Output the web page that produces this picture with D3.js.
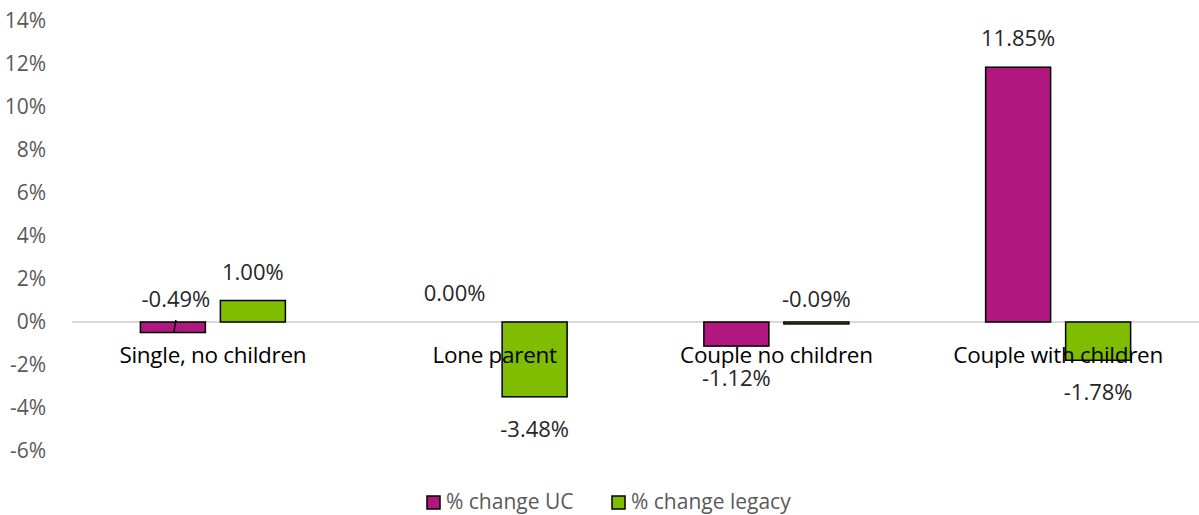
<!DOCTYPE html>
<html><head><meta charset="utf-8">
<script src="https://cdn.jsdelivr.net/npm/d3@7"></script>
<style>body{margin:0;background:#fff;}svg{display:block;font-family:"Open Sans",sans-serif;}</style>
</head><body><svg id="c" width="1199" height="515"></svg>
<script>
const categories = ["Single, no children","Lone parent","Couple no children","Couple with children"];
const seriesNames = ["% change UC","% change legacy"];
const ucValues = [-0.49, 0.00, -1.12, 11.85];
const legacyValues = [1.00, -3.48, -0.09, -1.78];
const yTicks = [-6,-4,-2,0,2,4,6,8,10,12,14];
const colors = ["#B0177F","#80BC00"];

(function(){
const svg = d3.select("#c");
const pl = 72, pr = 1199, pt = 21, pb = 451;
const x = d3.scaleBand().domain(categories).range([pl,pr]);
const xs = d3.scaleBand().domain([0,1]).range([-72.5,72.5]).paddingInner(15/80);
const y = d3.scaleLinear().domain([-6,14]).range([pb, pt]);

const yAxis = d3.axisLeft(y).tickValues(yTicks).tickFormat(d=>d+"%").tickSize(0).tickPadding(0);
const ga = svg.append("g").attr("transform","translate(46,0)").call(yAxis);
ga.select(".domain").remove();
ga.selectAll("text").attr("fill","#595959").style("font-size","21px").style("font-family","Open Sans");

svg.append("line").attr("x1",pl).attr("x2",pr).attr("y1",y(0)).attr("y2",y(0))
  .attr("stroke","#d9d9d9").attr("stroke-width",2);

const series = [ucValues, legacyValues];
series.forEach((vals,si)=>{
  svg.append("g").selectAll("rect").data(vals).join("rect")
    .attr("x",(d,i)=>x(categories[i])+x.bandwidth()/2+xs(si))
    .attr("width",xs.bandwidth())
    .attr("y",d=>Math.min(y(d),y(0)))
    .attr("height",d=>Math.abs(y(d)-y(0)))
    .attr("fill",colors[si]).attr("stroke","#000").attr("stroke-width",1.5);
});

svg.append("g").selectAll("text").data(categories).join("text")
  .attr("x",d=>x(d)+x.bandwidth()/2).attr("y",y(0)+41)
  .attr("text-anchor","middle").attr("fill","#000").style("font-size","22.5px")
  .style("letter-spacing","-0.3px")
  .text(d=>d);

series.forEach((vals,si)=>{
  vals.forEach((v,i)=>{
    const cx = x(categories[i])+x.bandwidth()/2+xs(si)+xs.bandwidth()/2;
    let ty;
    if (v >= 0) ty = y(v) - 21;
    else if (v > -0.5) ty = y(0) - 15;
    else ty = y(v) + 40;
    svg.append("text").attr("x",cx + (v<0 && v>-0.5 && si===0 ? 3 : 0)).attr("y",ty)
      .attr("text-anchor","middle").attr("fill","#262626").style("font-size","22px")
      .text(v.toFixed(2)+"%");
    if (v<0 && v>-0.5 && si===0) {
      svg.append("line").attr("x1",cx+1).attr("y1",y(v)).attr("x2",cx+3).attr("y2",y(0)-2)
        .attr("stroke","#000").attr("stroke-width",1.5);
    }
  });
});

const lg = svg.append("g").attr("transform","translate(0,502)");
const lx = [427, 612];
seriesNames.forEach((n,i)=>{
  lg.append("rect").attr("x",lx[i]).attr("y",-6).attr("width",13).attr("height",13)
    .attr("fill",colors[i]).attr("stroke","#000").attr("stroke-width",1.5);
  lg.append("text").attr("x",lx[i]+19).attr("y",7).attr("fill","#595959").style("font-size","21px").text(n);
});
})();
</script></body></html>
